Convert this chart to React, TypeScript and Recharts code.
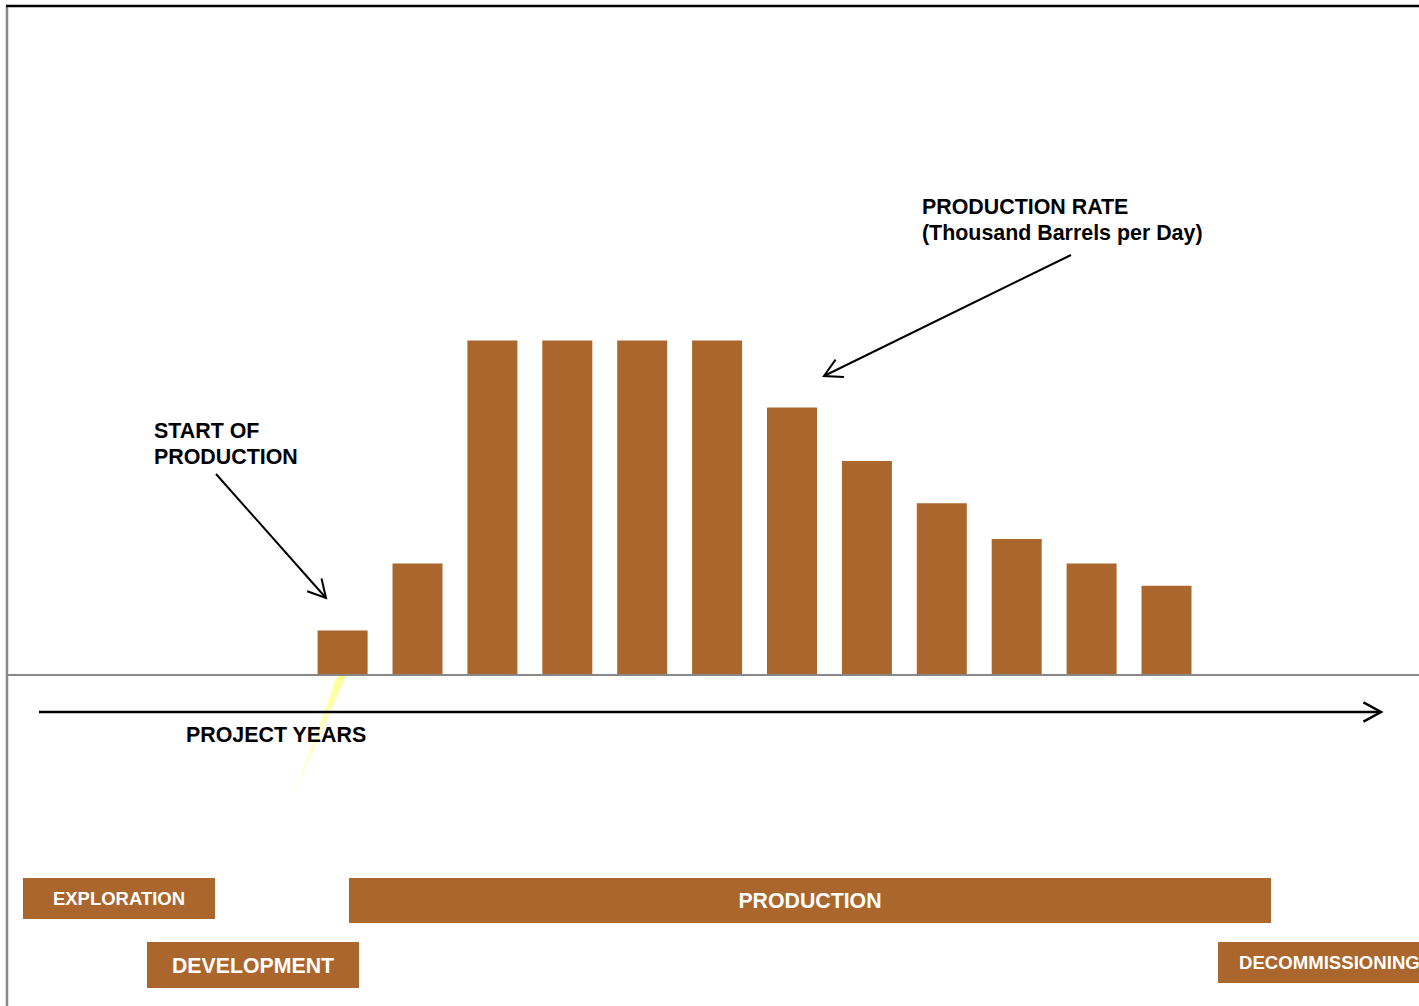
import { BarChart, Bar, XAxis, YAxis, ReferenceLine, Customized } from "recharts";

// project years on the x axis (4 pre-production years, 12 producing, then tail)
const years = [
  "1", "2", "3", "4", "5", "6", "7", "8", "9", "10",
  "11", "12", "13", "14", "15", "16", "17", "18", "19", "20",
];

// production rate, thousand barrels per day
const production = [
  0, 0, 0, 0, 20, 50, 150, 150, 150, 150,
  120, 96, 77, 61, 50, 40, 0, 0, 0, 0,
];

const phaseLabels = ["EXPLORATION", "DEVELOPMENT", "PRODUCTION", "DECOMMISSIONING"];

const BROWN = "#AA662C";
const FONT = "'Liberation Sans', Arial, Helvetica, sans-serif";

const data = years.map((y, i) => ({ year: y, rate: production[i] }));

function Arrow({ x1, y1, x2, y2, w = 2 }: { x1: number; y1: number; x2: number; y2: number; w?: number }) {
  const a = Math.atan2(y2 - y1, x2 - x1);
  const len = 20;
  const spread = 0.5;
  const p1 = [x2 - len * Math.cos(a - spread), y2 - len * Math.sin(a - spread)];
  const p2 = [x2 - len * Math.cos(a + spread), y2 - len * Math.sin(a + spread)];
  return (
    <g stroke="#000" strokeWidth={w} fill="none">
      <line x1={x1} y1={y1} x2={x2} y2={y2} />
      <polyline points={`${p1[0]},${p1[1]} ${x2},${y2} ${p2[0]},${p2[1]}`} />
    </g>
  );
}

// phase boxes under the chart: [x, y, width, height, fontSize, textStart?]
const phaseBoxes: [number, number, number, number, number, number | null][] = [
  [23, 878, 192, 41, 18.5, null],
  [147, 942, 212, 46, 21.3, null],
  [349, 878, 922, 45, 21.3, null],
  [1218, 942, 230, 41, 18.6, 1239],
];

function Overlay() {
  return (
    <g fontFamily={FONT} fontWeight="bold">
      <defs>
        <linearGradient id="beam" x1="0" y1="0" x2="0" y2="1">
          <stop offset="0%" stopColor="#FFFF99" stopOpacity={1} />
          <stop offset="100%" stopColor="#FFFFCC" stopOpacity={0.6} />
        </linearGradient>
      </defs>
      {/* frame */}
      <line x1={7} y1={6} x2={7} y2={1006} stroke="#888" strokeWidth={2.5} />
      {/* faint beam under first production bar */}
      <polygon points="337,676 346,676 293,797" fill="url(#beam)" />
      {/* project years axis */}
      <Arrow x1={39} y1={712} x2={1381} y2={712} w={2.5} />
      <text x={186} y={742} fontSize={21.4} fill="#000">PROJECT YEARS</text>

      <text x={154} y={438} fontSize={21.4} fill="#000">START OF</text>
      <text x={154} y={464} fontSize={21.4} fill="#000">PRODUCTION</text>
      <Arrow x1={216} y1={474} x2={326} y2={598} />

      <text x={922} y={214} fontSize={21.4} fill="#000">PRODUCTION RATE</text>
      <text x={922} y={240} fontSize={21.4} fill="#000">(Thousand Barrels per Day)</text>
      <Arrow x1={1071} y1={255} x2={824} y2={376} />

      {phaseBoxes.map(([x, y, w, h, fs, tx], i) => (
        <g key={i}>
          <rect x={x} y={y} width={w} height={h} fill={BROWN} />
          <text
            x={tx ?? x + w / 2}
            y={y + h / 2}
            dy="0.36em"
            textAnchor={tx ? "start" : "middle"}
            fontSize={fs}
            fill="#fff"
          >
            {phaseLabels[i]}
          </text>
        </g>
      ))}
    </g>
  );
}

export default function App() {
  return (
    <div
      style={{
        position: "absolute",
        left: 0,
        top: 0,
        width: 1419,
        height: 1006,
        overflow: "hidden",
        background: "#fff",
      }}
    >
      <BarChart
        width={1504}
        height={1006}
        data={data}
        margin={{ top: 6, right: 0, left: 6, bottom: 331 }}
      >
        <XAxis dataKey="year" hide />
        <YAxis hide domain={[0, 300]} />
        <ReferenceLine y={300} stroke="#000" strokeWidth={2.5} ifOverflow="extendDomain" />
        <Bar dataKey="rate" fill={BROWN} barSize={50} isAnimationActive={false} />
        <ReferenceLine y={0} stroke="#888" strokeWidth={2} />
        <Customized component={Overlay} />
      </BarChart>
    </div>
  );
}
